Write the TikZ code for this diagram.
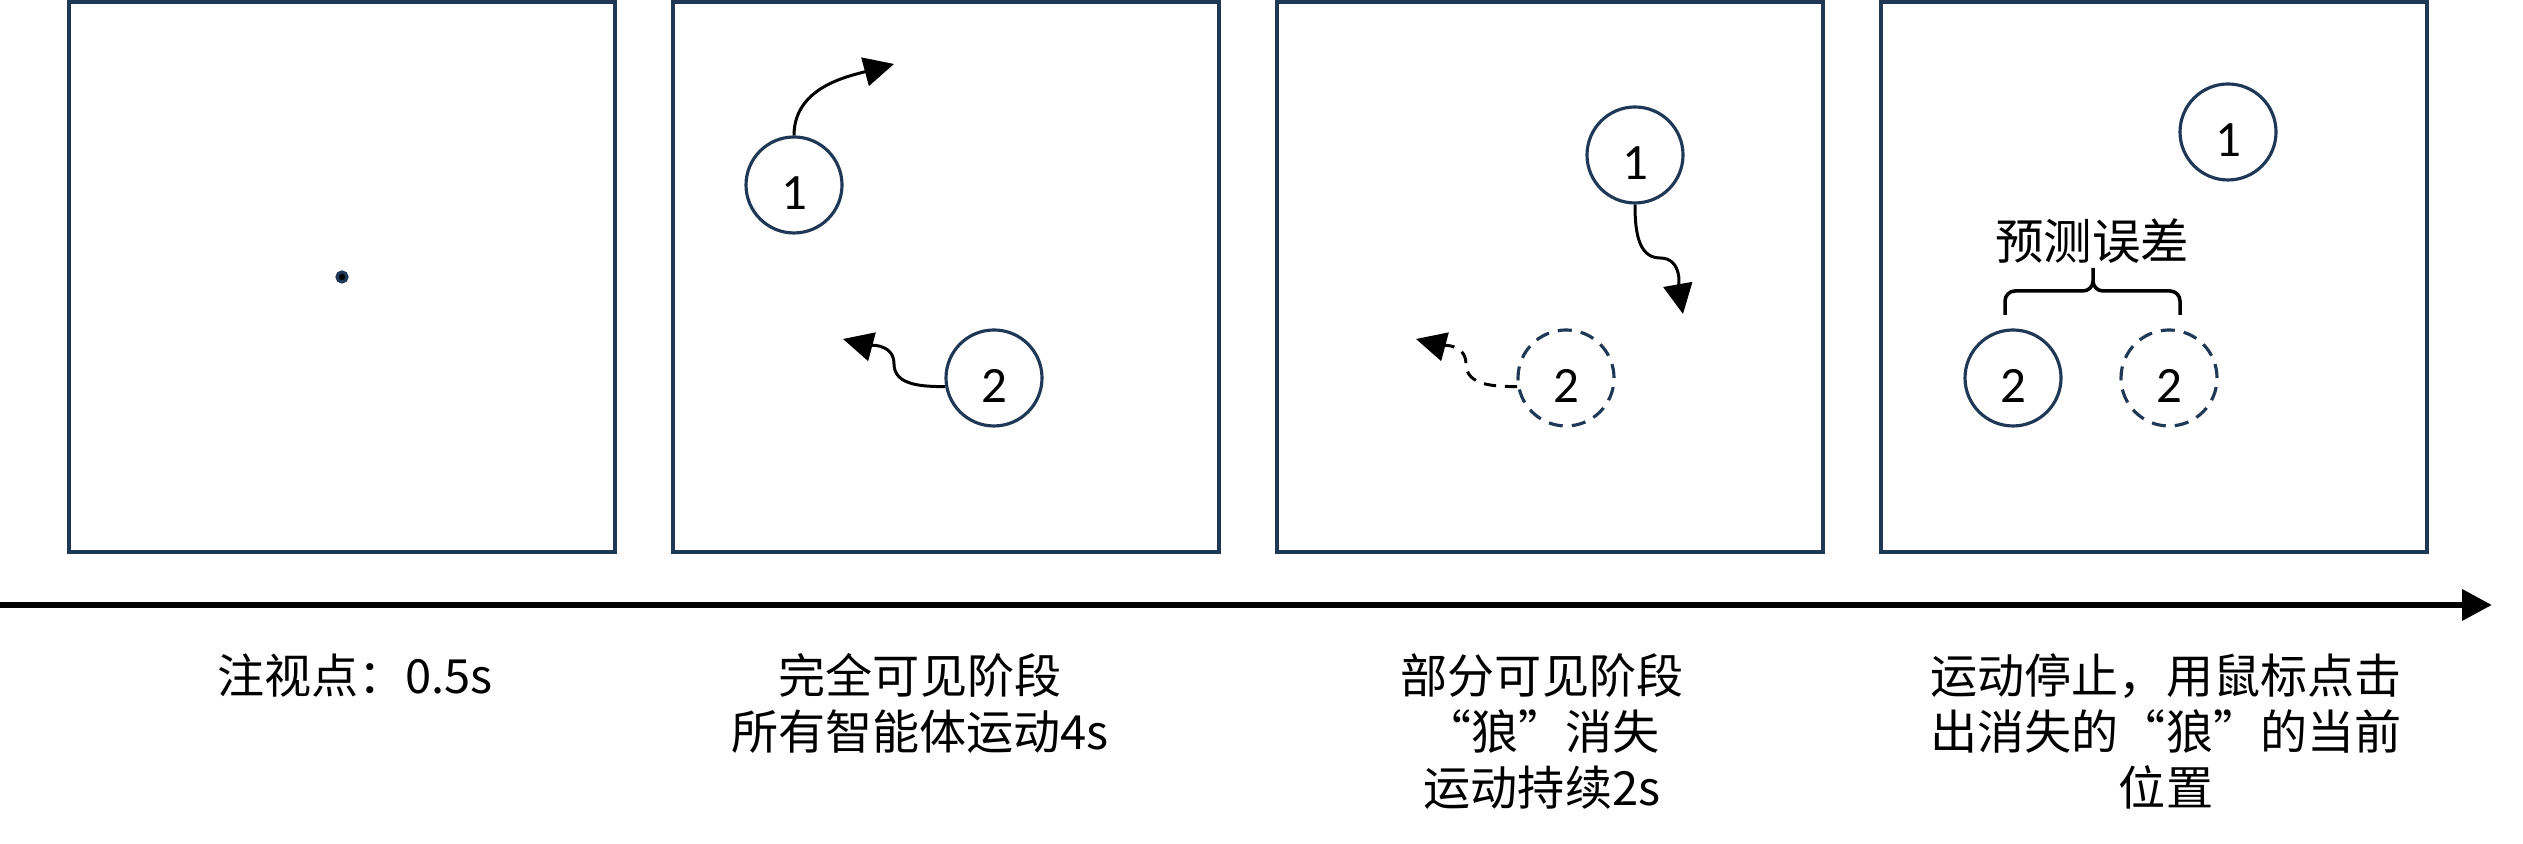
\documentclass[tikz,border=0pt]{standalone}
\usepackage{fontspec}
\setmainfont{Noto Sans CJK SC}
\newfontfamily\digitfont{Carlito}
\usetikzlibrary{arrows.meta}
\definecolor{panelblue}{RGB}{31,56,86}
\tikzset{
	panel/.style={draw=panelblue, line width=0.9pt, minimum width=5.46cm, minimum height=5.5cm, inner sep=0pt},
	agent/.style={circle, draw=panelblue, line width=0.9pt, minimum size=0.96cm, inner sep=0pt,
		font=\digitfont\fontsize{14.5}{14.5}\selectfont, text height=14pt, text depth=0pt},
	ghost/.style={agent, dash pattern=on 4pt off 2.6pt},
	move/.style={-{Triangle[length=0.3cm, width=0.29cm]}, line width=0.85pt},
	phase/.style={font=\fontsize{13.4}{16}\selectfont, align=center, inner sep=0pt, anchor=north},
}

\begin{document}
\begin{tikzpicture}
		\useasboundingbox (0,0) rectangle (25.23,8.44);

		% four stages
		\node[panel] (p1) at (3.42,5.67) {};
		\node[panel] (p2) at (9.46,5.67) {};
		\node[panel] (p3) at (15.50,5.67) {};
		\node[panel] (p4) at (21.54,5.67) {};

		% fixation point
		\node[circle, fill=black, draw=panelblue, line width=0.9pt, minimum size=0.1cm, inner sep=0pt] (fix) at (p1.center) {};

		% fully visible
		\node[agent] (a1) at (7.94,6.59) {1};
		\node[agent] (a2) at (9.94,4.66) {2};
		\coordinate (a1tip) at (8.94,7.80);
		\coordinate (a2mid) at (8.94,4.80);
		\coordinate (a2tip) at (8.43,5.05);
		\draw[move] (a1.north) to[out=90, in=195] (a1tip);
		\draw[move] (a2.190) to[out=180, in=-90] (a2mid) to[out=90, in=-15] (a2tip);

		% partly visible, wolf hidden
		\node[agent] (b1) at (16.35,6.89) {1};
		\node[ghost] (b2) at (15.66,4.66) {2};
		\coordinate (b1mid) at (16.60,5.86);
		\coordinate (b1tip) at (16.83,5.30);
		\coordinate (b2mid) at (14.66,4.80);
		\coordinate (b2tip) at (14.16,5.05);
		\draw[move] (b1.south) to[out=-90, in=180] (b1mid) to[out=0, in=100] (b1tip);
		\draw[move, dash pattern=on 3.5pt off 2.5pt] (b2.190) to[out=180, in=-90] (b2mid) to[out=90, in=-15] (b2tip);

		% response
		\node[agent] (c1) at (22.28,7.12) {1};
		\node[agent] (c2) at (20.13,4.66) {2};
		\node[ghost] (c3) at (21.69,4.66) {2};
		\coordinate (bl) at (20.05,5.29);
		\coordinate (br) at (21.80,5.29);
		\coordinate (bm) at (20.93,5.53);
		\coordinate (bt) at (20.93,5.76);
		\draw[line width=1pt, rounded corners=0.1cm] (bl) |- (bm) -- (bt) (br) |- (bm) -- (bt);
		\node[font=\fontsize{13.8}{16}\selectfont] (err) at (20.92,6.03) {预测误差};

		% time axis
		\coordinate (t0) at (0,2.39);
		\coordinate (t1) at (24.92,2.39);
		\draw[line width=1.9pt, -{Triangle[length=0.3cm, width=0.3cm]}] (t0) -- (t1);

		\node[phase] (s1) at (3.55,1.91) {注视点：0.5s};
		\node[phase] (s2) at (9.20,1.91) {完全可见阶段\\所有智能体运动4s};
		\node[phase] (s3) at (15.42,1.91) {部分可见阶段\\“狼”消失\\运动持续2s};
		\node[phase] (s4) at (21.66,1.91) {运动停止，用鼠标点击\\出消失的“狼”的当前\\位置};
	\end{tikzpicture}
\end{document}
